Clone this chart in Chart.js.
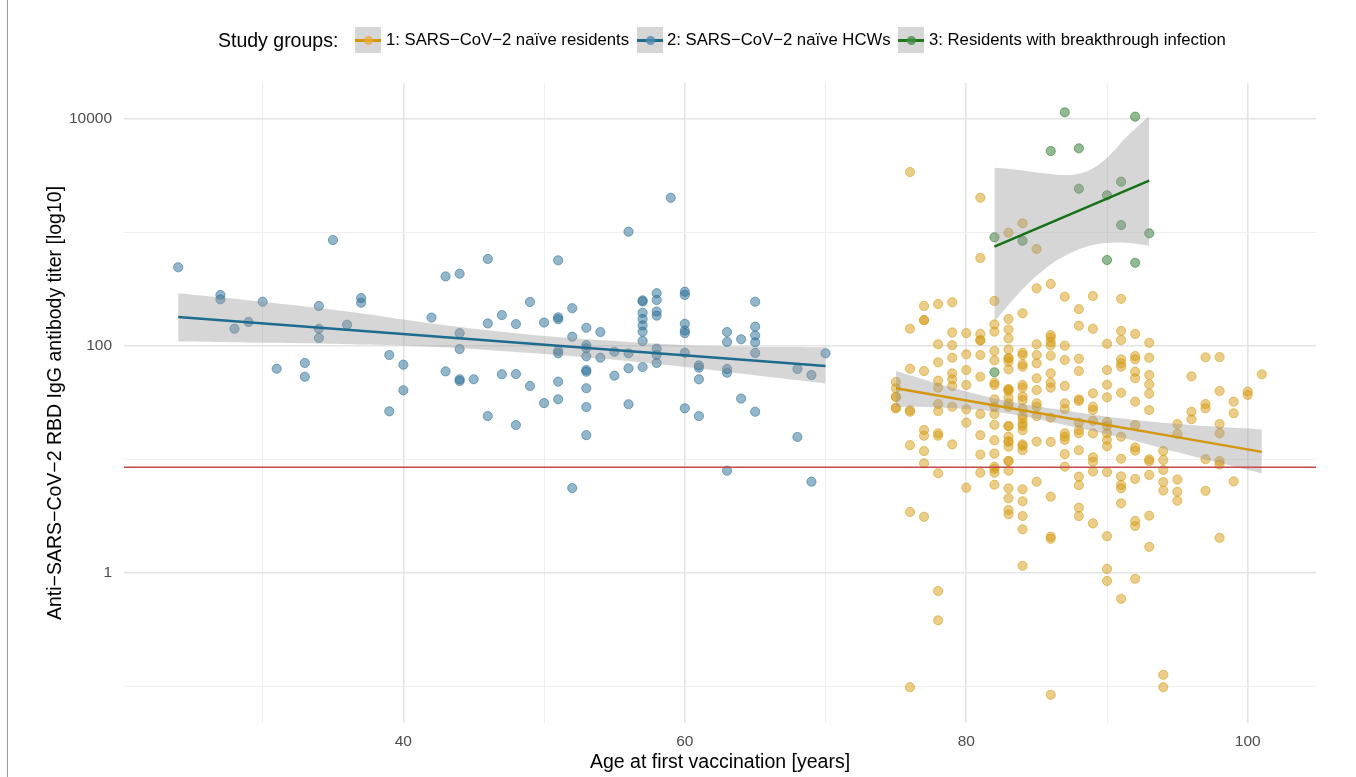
<!DOCTYPE html>
<html>
<head>
<meta charset="utf-8">
<script src="https://cdn.jsdelivr.net/npm/chart.js@4/dist/chart.umd.min.js"></script>
<style>
  body { margin: 0; background: #fff; }
  #wrap { position: relative; width: 1356px; height: 777px; font-family: "Liberation Sans", Arial, sans-serif; }
  #frame { position: absolute; left: 7px; top: 0; width: 1px; height: 777px; background: #9a9a9a; }
  .lg { position: absolute; top: 27px; height: 26px; line-height: 26px; color: #000; white-space: nowrap; }
  .lgTitle { font-size: 19.5px; }
  .lgText { font-size: 16.7px; }
  .key { position: absolute; top: 27px; width: 26px; height: 26px; background: #d6d6d6; }
  .key .ln { position: absolute; left: 0; top: 11.5px; width: 26px; height: 3px; }
  .key .dot { position: absolute; left: 8.5px; top: 8.5px; width: 9px; height: 9px; border-radius: 50%; }
</style>
</head>
<body>
<div id="wrap">
  <canvas id="titerChart" width="1356" height="777"></canvas>
  <div id="frame"></div>
  <div class="lg lgTitle" style="left:218px">Study groups:</div>
  <div class="key" style="left:355px"><div class="ln" style="background:#d4960c"></div><div class="dot" style="background:rgba(230,170,60,0.75)"></div></div>
  <div class="lg lgText" style="left:386px">1: SARS−CoV−2 naïve residents</div>
  <div class="key" style="left:637px"><div class="ln" style="background:#1f6b8e"></div><div class="dot" style="background:rgba(80,140,175,0.8)"></div></div>
  <div class="lg lgText" style="left:667px">2: SARS−CoV−2 naïve HCWs</div>
  <div class="key" style="left:898px"><div class="ln" style="background:#1b7a1b"></div><div class="dot" style="background:rgba(70,140,70,0.8)"></div></div>
  <div class="lg lgText" style="left:929px">3: Residents with breakthrough infection</div>
</div>

<script>
// =====================================
// DATA (age in years, antibody titer)
// =====================================

// group 1: naive residents, titers listed per age column
const residentAges = [75,76,77,78,79,80,81,82,83,84,85,86,87,88,89,90,91,92,93,94,95,96,97,98,99,100,101];
const residentTiters = [
    [47.9,42.2,35.6,35.2,28.4,28.1],
    [3390,141,62.7,27.0,26.2,13.3,3.43,0.098],
    [224,168,168,59.8,18.1,16.1,11.8,9.2,3.11],
    [233,103,71.4,49.2,42.7,30.6,26.6,16.9,16.1,7.51,0.69,0.381],
    [241,131,101,78.4,57.1,50.6,44.2,29.0,13.5],
    [129,84,61.1,45.1,27.5,21.0,5.61],
    [2013,593,127,112,111,82.8,53.3,25,16.3,11.0,7.6],
    [248,154,133,89.8,74.3,47.2,45.1,33.7,29.0,25.0,20.1,14.7,11.2,8.6,8.2,7.6,5.96],
    [990,172,139,116,92.9,77.4,77.4,72.3,61.9,41.3,41.3,39.9,34.8,31.1,29.0,19.6,19.6,15.8,14.3,14.3,12.9,9.64,9.64,7.93,5.54,4.53,3.57,3.27],
    [1197,193,86.8,82.8,68.6,65.3,45.1,42.7,35.6,33.2,27.9,24.2,22.6,20.7,19.6,18.0,13.5,13.1,12.0,5.43,4.26,3.16,2.41,1.15],
    [711,320,103,82.8,70,51.6,40.7,31.1,29.0,24.0,14.3,6.34],
    [350,124,118,108,101,81.6,57.1,47.2,42.7,23.2,14.2,4.68,2.08,1.99,0.084],
    [270,100,74.8,44.2,31.1,27.7,16.9,15.8,14.8,11.1,8.6],
    [210,150,76.8,59.8,33.7,32.6,21.0,18.1,16.9,12.0,7.02,5.9,3.74,3.16],
    [274,141,38.1,29.0,27.1,21.8,16.9,10.4,9.5,7.8,2.72],
    [104,61.1,45.3,35.1,21.3,19.6,16.9,14.8,13.0,7.71,2.10,1.08,0.846],
    [259,135,112,75.9,70,65.3,38.5,15.8,10.1,7.06,5.93,5.54,4.09,0.59],
    [127,81.1,75.9,59,51.6,32.1,20.0,12.7,11.9,6.7,2.86,2.58,0.885],
    [106,78.4,55.2,45.7,37.8,27.1,9.98,9.6,7.27,3.18,1.69],
    [11.8,9.85,8.04,6.29,5.3,0.126,0.098],
    [20.4,16.7,6.62,5.17,4.31],
    [53.7,26.2,22.5],
    [79.1,30.6,28.1,10.0,5.27],
    [79.4,39.9,20.4,16.9,9.64,8.98,2.03],
    [32.1,25.4,6.37],
    [39.4,36.8],
    [56]
];

// group 2: naive health care workers
const hcwAges = [24,27,28,29,30,31,33,34,35,36,37,39,40,42,43,44,45,46,47,48,49,50,51,52,53,54,55,56,57,58,59,60,61,63,64,65,68,69,70];
const hcwTiters = [
    [491],
    [280,256],
    [141],
    [162],
    [244],
    [62.7],
    [70.5,53.3],
    [224,141,117],
    [853],
    [153],
    [263,239],
    [82.8,26.4],
    [68.1,40.5],
    [177],
    [408,59.4],
    [431,129,93.5,50.6,48.9],
    [50.6],
    [581,157,24.0],
    [186,56],
    [155,56.3,20.0],
    [243,44.2],
    [160,31.2],
    [565,178,171,90.4,85.7,48.2,33.7],
    [214,120,5.57],
    [144,101,94.9,80.7,61.1,59.0,42.2,28.8,16.3],
    [132,78.4],
    [88.5,54.5],
    [1010,85.7,63.2,30.5],
    [251,245,195,172,151,133,110,64.9],
    [290,253,200,184,94.2,82.8,70.5],
    [2010],
    [299,280,156,136,129,86.7,28.1],
    [67.2,64,50.6,24.0],
    [132,108,62.4,57.8,7.93],
    [114,34.2],
    [244,147,123,107,86.3,26.2],
    [62.4,15.7],
    [55.2,6.34],
    [85.7]
];

// group 3: residents with breakthrough infection
const btAges = [82,84,86,87,88,90,91,92,93];
const btTiters = [
    [902,58.3],
    [841],
    [5190],
    [11380],
    [5480,2415],
    [2113,569],
    [2785,1156],
    [10420,538],
    [977]
];

// fitted lines (end points) and confidence bands
const residentFitAge = [75, 101];
const residentFit = [42.2, 11.6];
const residentBandAge = [75, 79, 83, 87, 91, 95, 101];
const residentBandHigh = [59.8, 42.7, 32.4, 26.9, 22.9, 20.4, 18.3];
const residentBandLow = [29.0, 28.2, 25.1, 20.0, 15.5, 11.5, 7.5];

const hcwFitAge = [24, 70];
const hcwFit = [179, 66.2];
const hcwBandAge = [24, 30, 36, 42, 48, 54, 60, 65, 70];
const hcwBandHigh = [290, 244, 200, 157, 129, 112, 101, 98, 97];
const hcwBandLow = [109, 106, 103, 98, 88, 77, 65, 55, 46.5];

const btFitAge = [82, 93];
const btFit = [745, 2845];
const btBandAge = [82, 83.1, 84.3, 85.5, 86.7, 87.9, 89, 90.2, 91.4, 93];
const btBandHigh = [3700, 3610, 3460, 3300, 3190, 3260, 3660, 4790, 6930, 10570];
const btBandLow = [163, 237, 343, 465, 589, 697, 771, 807, 807, 760];

// cut-off line
const cutoff = 8.5;

const xTicks = [30, 40, 50, 60, 70, 80, 90, 100];
const xLabels = [40, 60, 80, 100];
const yTicks = [0.1, 1, 10, 100, 1000, 10000];
const yLabels = [1, 100, 10000];


// =====================================
// HELPERS
// =====================================

function columnPoints(ages, titers){
    return ages.flatMap((age, i) => titers[i].map(v => ({ x: age, y: v })));
}

function pairPoints(xs, ys){
    return xs.map((x, i) => ({ x: x, y: ys[i] }));
}

function pointSet(label, data, rgb){
    return {
        label: label,
        data: data,
        pointRadius: 4.6,
        pointBackgroundColor: "rgba(" + rgb + ",0.5)",
        pointBorderColor: "rgba(" + rgb + ",0.55)",
        pointBorderWidth: 1,
        order: 10
    };
}

function bandSets(ages, high, low){
    return [
        {
            type: "line",
            data: pairPoints(ages, high),
            borderWidth: 0,
            pointRadius: 0,
            tension: 0.4,
            backgroundColor: "rgba(153,153,153,0.4)",
            fill: "+1",
            order: 5
        },
        {
            type: "line",
            data: pairPoints(ages, low),
            borderWidth: 0,
            pointRadius: 0,
            tension: 0.4,
            fill: false,
            order: 5
        }
    ];
}

function fitSet(ages, vals, color){
    return {
        type: "line",
        data: pairPoints(ages, vals),
        borderColor: color,
        borderWidth: 2.4,
        pointRadius: 0,
        fill: false,
        order: 1
    };
}


// =====================================
// CHART
// =====================================

const X_MIN = 20.15;
const X_MAX = 104.85;

const datasets = [
    pointSet("1", columnPoints(residentAges, residentTiters), "214,155,20"),
    pointSet("2", columnPoints(hcwAges, hcwTiters), "40,110,150"),
    pointSet("3", columnPoints(btAges, btTiters), "40,120,40"),
    ...bandSets(residentBandAge, residentBandHigh, residentBandLow),
    ...bandSets(hcwBandAge, hcwBandHigh, hcwBandLow),
    ...bandSets(btBandAge, btBandHigh, btBandLow),
    {
        type: "line",
        data: [{ x: X_MIN, y: cutoff }, { x: X_MAX, y: cutoff }],
        borderColor: "#c8474a",
        borderWidth: 1.6,
        pointRadius: 0,
        fill: false,
        order: 3
    },
    fitSet(residentFitAge, residentFit, "#d4960c"),
    fitSet(hcwFitAge, hcwFit, "#1f6b8e"),
    fitSet(btFitAge, btFit, "#167016")
];

const font = "'Liberation Sans', Arial, sans-serif";

new Chart(document.getElementById("titerChart"), {

    type: "scatter",

    data: { datasets: datasets },

    options: {
        responsive: false,
        animation: false,
        layout: { padding: { top: 83, right: 40, left: 0, bottom: 0 } },
        plugins: {
            legend: { display: false },
            tooltip: { enabled: false }
        },
        scales: {
            x: {
                type: "linear",
                min: X_MIN,
                max: X_MAX,
                afterFit: s => { s.height = 54; },
                afterBuildTicks: s => { s.ticks = xTicks.map(v => ({ value: v })); },
                border: { display: false },
                grid: {
                    drawTicks: false,
                    color: c => xLabels.includes(c.tick.value) ? "#e4e4e4" : "#efefef",
                    lineWidth: c => xLabels.includes(c.tick.value) ? 1.6 : 1
                },
                ticks: {
                    padding: 9,
                    color: "#4d4d4d",
                    font: { family: font, size: 15.5 },
                    callback: v => xLabels.includes(v) ? String(v) : ""
                },
                title: {
                    display: true,
                    text: "Age at first vaccination [years]",
                    color: "#000",
                    font: { family: font, size: 19.5 },
                    padding: { top: 0, bottom: 3 }
                }
            },
            y: {
                type: "logarithmic",
                min: Math.pow(10, -1.324),
                max: Math.pow(10, 4.3145),
                afterFit: s => { s.width = 124; },
                afterBuildTicks: s => { s.ticks = yTicks.map(v => ({ value: v })); },
                border: { display: false },
                grid: {
                    drawTicks: false,
                    color: c => yLabels.includes(c.tick.value) ? "#e4e4e4" : "#efefef",
                    lineWidth: c => yLabels.includes(c.tick.value) ? 1.6 : 1
                },
                ticks: {
                    padding: 12,
                    color: "#4d4d4d",
                    font: { family: font, size: 15.5 },
                    callback: v => yLabels.includes(v) ? String(v) : ""
                },
                title: {
                    display: true,
                    text: "Anti−SARS−CoV−2 RBD IgG antibody titer [log10]",
                    color: "#000",
                    font: { family: font, size: 19.5 },
                    padding: { top: 44, bottom: 4 }
                }
            }
        }
    }

});
</script>
</body>
</html>
